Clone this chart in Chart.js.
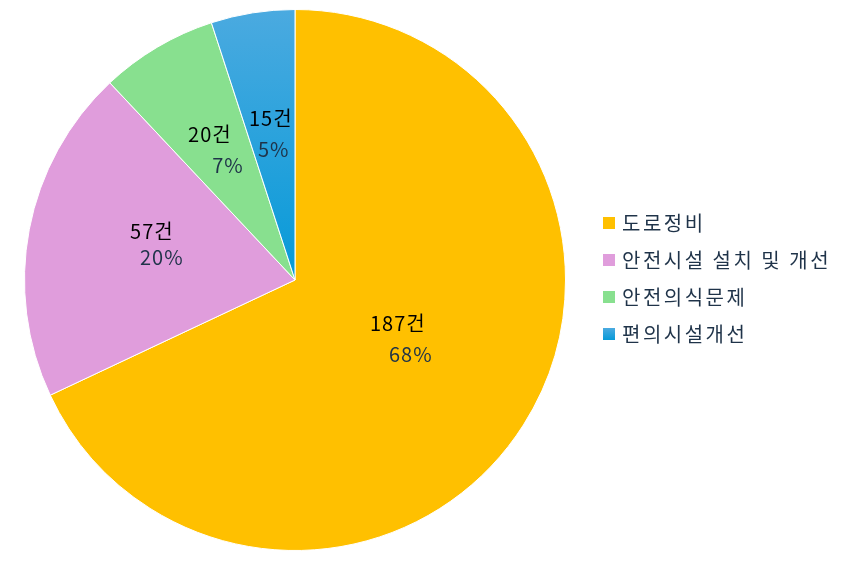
<!DOCTYPE html>
<html><head><meta charset="utf-8">
<script src="https://cdn.jsdelivr.net/npm/chart.js@4/dist/chart.umd.min.js"></script>
<style>html,body{margin:0;padding:0;background:#fff}#wrap{width:844px;height:562px;position:relative}</style>
</head><body><div id="wrap"><canvas id="c" width="844" height="562"></canvas></div>
<script>
const categories = ['도로정비', '안전시설 설치 및 개선', '안전의식문제', '편의시설개선'];
const counts = [187, 57, 20, 15];
const percents = [68, 20, 7, 5];
const countLabels = ['187건', '57건', '20건', '15건'];
const percentLabels = ['68%', '20%', '7%', '5%'];

const FONT = '"Noto Sans CJK KR", "Noto Sans", sans-serif';
const solidColors = ['#FFC000', '#E09DDC', '#88E08F', null];

function blueGradient(ctx, top, bottom) {
  const g = ctx.createLinearGradient(0, top, 0, bottom);
  g.addColorStop(0, '#4BAAE0');
  g.addColorStop(1, '#069AD8');
  return g;
}

const labelPlugin = {
  id: 'sliceLabels',
  afterDatasetsDraw(chart, args, opts) {
    const ctx = chart.ctx;
    const meta = chart.getDatasetMeta(0);
    meta.data.forEach((arc, i) => {
      const mid = (arc.startAngle + arc.endAngle) / 2;
      const r = arc.outerRadius * opts.radial[i];
      const x = arc.x + Math.cos(mid) * r;
      const y = arc.y + Math.sin(mid) * r;
      ctx.save();
      ctx.textAlign = 'center';
      ctx.textBaseline = 'middle';
      ctx.font = '20px ' + FONT;
      ctx.letterSpacing = '1px';
      ctx.fillStyle = '#000000';
      ctx.fillText(countLabels[i], x + opts.dx1[i], y + opts.dy1[i]);
      ctx.fillStyle = '#1F3349';
      ctx.fillText(percentLabels[i], x + opts.dx2[i], y + opts.dy2[i]);
      ctx.restore();
    });
  }
};

const legendPlugin = {
  id: 'customLegend',
  afterDraw(chart, args, opts) {
    const ctx = chart.ctx;
    ctx.save();
    ctx.font = '20px ' + FONT;
    ctx.letterSpacing = '2.5px';
    ctx.textBaseline = 'middle';
    ctx.textAlign = 'left';
    categories.forEach((c, i) => {
      const y = opts.y0 + i * opts.step;
      const bx = opts.x0, bs = 12;
      ctx.fillStyle = solidColors[i] || blueGradient(ctx, y - bs / 2, y + bs / 2);
      ctx.fillRect(bx, y - bs / 2, bs, bs);
      ctx.fillStyle = '#1F3349';
      ctx.fillText(c, bx + 19, y);
    });
    ctx.restore();
  }
};

new Chart(document.getElementById('c'), {
  type: 'pie',
  data: {
    labels: categories,
    datasets: [{
      data: percents,
      backgroundColor: (ctx) => {
        const i = ctx.dataIndex;
        if (solidColors[i]) return solidColors[i];
        const ca = ctx.chart.chartArea;
        if (!ca) return '#0A9BDB';
        return blueGradient(ctx.chart.ctx, ca.top, ca.top + (ca.bottom - ca.top) / 2);
      },
      borderColor: '#ffffff',
      borderWidth: 1,
      hoverOffset: 0
    }]
  },
  plugins: [labelPlugin, legendPlugin],
  options: {
    responsive: false,
    animation: false,
    layout: { padding: { left: 24, right: 278, top: 9, bottom: 11 } },
    plugins: {
      legend: { display: false },
      tooltip: { enabled: false },
      sliceLabels: {
        radial: [0.45, 0.52, 0.56, 0.55],
        dx1: [0, -5, -8, -1], dx2: [13, 5, 10, 2],
        dy1: [-22, -22, -15, -15], dy2: [9, 4, 16, 16]
      },
      customLegend: { x0: 603, y0: 223, step: 37 }
    }
  }
});
</script></body></html>
